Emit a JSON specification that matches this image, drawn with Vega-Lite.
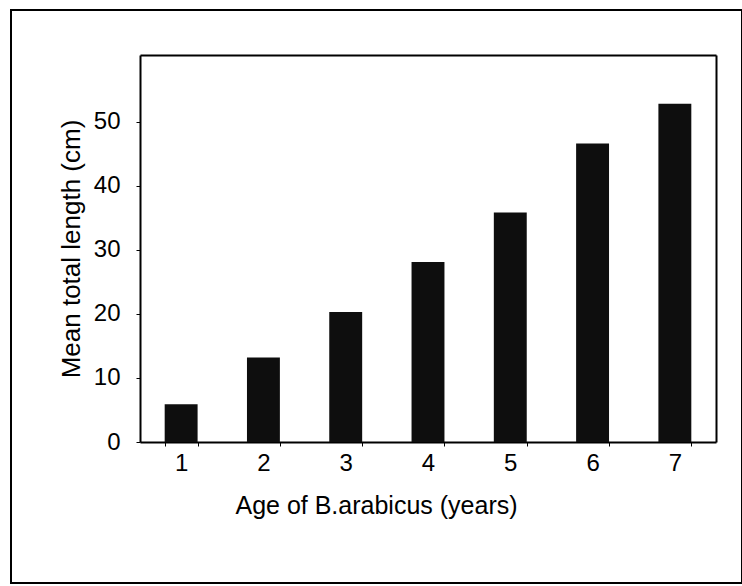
{
  "$schema": "https://vega.github.io/schema/vega-lite/v6.json",
  "width": 731,
  "height": 573,
  "autosize": {"type": "none"},
  "padding": {"left": 11, "top": 10, "right": 0, "bottom": 3},
  "background": "white",
  "data": {
    "values": [
      {"age": "1", "length": 5.9},
      {"age": "2", "length": 13.2},
      {"age": "3", "length": 20.3},
      {"age": "4", "length": 28.1},
      {"age": "5", "length": 35.8},
      {"age": "6", "length": 46.6},
      {"age": "7", "length": 52.8}
    ]
  },
  "layer": [
    {
      "mark": {"type": "bar", "color": "#0e0e0e"},
      "encoding": {
        "x": {
          "field": "age",
          "type": "ordinal",
          "scale": {"paddingInner": 0.6, "paddingOuter": 0.3, "range": [129, 705]},
          "axis": {
            "orient": "bottom",
            "offset": -141,
            "title": "Age of B.arabicus (years)",
            "titleFontSize": 25,
            "titleFontWeight": "normal",
            "titleColor": "black",
            "titleX": 365,
            "titleY": 71,
            "titleBaseline": "alphabetic",
            "labelAngle": 0,
            "labelFontSize": 24,
            "labelColor": "black",
            "labelPadding": 5,
            "tickBand": "extent",
            "tickSize": 4,
            "tickColor": "black",
            "domainColor": "black",
            "domainWidth": 2
          }
        },
        "y": {
          "field": "length",
          "type": "quantitative",
          "scale": {"domain": [0, 60.4], "nice": false, "range": [432, 45]},
          "axis": {
            "orient": "left",
            "offset": -129,
            "title": "Mean total length (cm)",
            "values": [0, 10, 20, 30, 40, 50],
            "titleFontSize": 26,
            "titleFontWeight": "normal",
            "titleColor": "black",
            "titlePadding": 9,
            "labelFontSize": 24,
            "labelColor": "black",
            "labelPadding": 16,
            "tickSize": 4,
            "tickColor": "black",
            "domainColor": "black",
            "domainWidth": 2,
            "grid": false
          }
        }
      }
    },
    {
      "mark": {"type": "bar", "opacity": 0},
      "encoding": {
        "x": {
          "field": "age",
          "type": "ordinal",
          "axis": {
            "orient": "top",
            "offset": -45,
            "title": null,
            "labels": false,
            "ticks": false,
            "domainColor": "black",
            "domainWidth": 2
          }
        },
        "y": {
          "field": "length",
          "type": "quantitative",
          "axis": {
            "orient": "right",
            "offset": -26,
            "title": null,
            "labels": false,
            "ticks": false,
            "grid": false,
            "domainColor": "black",
            "domainWidth": 2
          }
        }
      }
    }
  ],
  "resolve": {"axis": {"x": "independent", "y": "independent"}},
  "config": {
    "font": "Liberation Sans",
    "view": {"stroke": "black", "strokeWidth": 2}
  }
}
